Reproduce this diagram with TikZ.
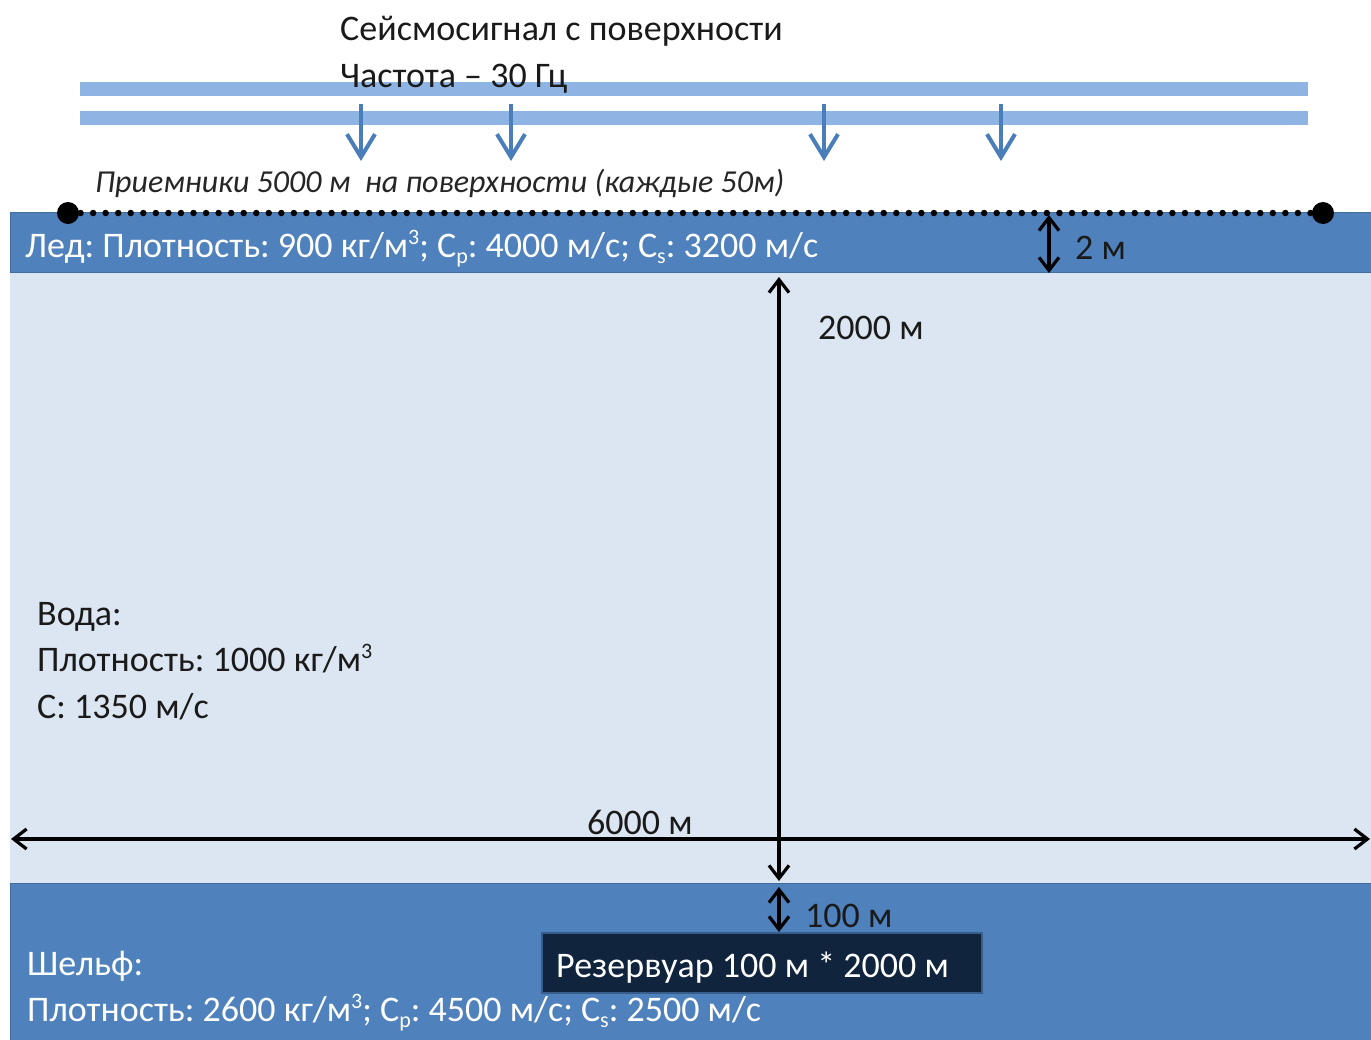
\documentclass[tikz,border=0pt]{standalone}
\usepackage{fontspec}
\setmainfont{Carlito}
\usetikzlibrary{arrows.meta}
\definecolor{layerblue}{HTML}{4F81BD}
\definecolor{layeredge}{HTML}{3F6E9E}
\definecolor{waterblue}{HTML}{DCE6F2}
\definecolor{barblue}{HTML}{8EB4E3}
\definecolor{sigblue}{HTML}{4A7EBB}
\definecolor{resfill}{HTML}{10243E}
\definecolor{resedge}{HTML}{385D8A}
\definecolor{txtdark}{HTML}{1A1A1A}
\newcommand\mcube{\raisebox{0.72ex}{\fontsize{22}{24}\selectfont 3}}
\newcommand\msub[1]{\raisebox{-0.35ex}{\fontsize{22}{24}\selectfont #1}}
\frenchspacing
\begin{document}
\begin{tikzpicture}[x=1pt,y=-1pt,
  bigtxt/.style={anchor=base west, inner sep=0pt, font=\fontsize{36}{42}\selectfont, text=txtdark},
  whitetxt/.style={bigtxt, text=white},
  itxt/.style={anchor=base west, inner sep=0pt, font=\fontsize{32}{38}\selectfont\itshape, text=black!85},
  dimarrow/.style={line width=3.2pt, draw=black, {Straight Barb[length=13pt,width=20pt]}-{Straight Barb[length=13pt,width=20pt]}},
  sigarrow/.style={draw=sigblue, line width=4pt, -{Straight Barb[length=23pt,width=28pt]}},
  bar/.style={fill=barblue, draw=none},
  layer/.style={fill=layerblue, draw=layeredge, line width=1pt}
]
\useasboundingbox (0,0) rectangle (1371,1039);
\fill[white] (0,0) rectangle (1371,1039);

% layers
\path[fill=waterblue, draw=none] (10,272) rectangle (1371,883);
\path[layer] (10,212) rectangle (1373,272);
\path[layer] (10,883) rectangle (1373,1041);

% signal bars
\path[bar] (80,82) rectangle (1308,96);
\path[bar] (80,111) rectangle (1308,125);

% title texts
\node[bigtxt] (title1) at (340,40) {Сейсмосигнал с поверхности};
\node[bigtxt] (title2) at (340,87) {Частота – 30 Гц};

% signal arrows
\foreach \x/\n in {361/a,511/b,824/c,1001/d}{
  \coordinate (s\n) at (\x,104);
  \coordinate (e\n) at (\x,161);
  \draw[sigarrow] (s\n) -- (e\n);
}

% receivers
\node[itxt] (recv) at (95,192) {Приемники 5000 м\ \ на поверхности (каждые 50м)};
\coordinate (rl) at (68,213);
\coordinate (rr) at (1323,213);
\draw[line width=6.5pt, line cap=round, dash pattern=on 0pt off 12.55pt, black] (rl) -- (rr);
\fill[black] (rl) circle (11);
\fill[black] (rr) circle (11);

% ice text
\node[whitetxt] (ice) at (25,257) {Лед: Плотность: 900 кг/м\mcube; C\msub{p}: 4000 м/с; C\msub{s}: 3200 м/с};

% 2 m arrow
\coordinate (ia) at (1049,215);
\coordinate (ib) at (1049,273);
\draw[dimarrow] (ia) -- (ib);
\node[bigtxt] (twom) at (1075,259) {2 м};

% 2000 m arrow
\coordinate (va) at (779,277);
\coordinate (vb) at (779,881);
\draw[dimarrow] (va) -- (vb);
\node[bigtxt] (d2000) at (818,339) {2000 м};

% 6000 m arrow
\coordinate (ha) at (11,839);
\coordinate (hb) at (1370,839);
\draw[dimarrow] (ha) -- (hb);
\node[bigtxt] (d6000) at (587,834) {6000 м};

% water text
\node[bigtxt] (w1) at (37,625) {Вода:};
\node[bigtxt] (w2) at (37,671) {Плотность: 1000 кг/м\mcube};
\node[bigtxt] (w3) at (37,718) {С: 1350 м/с};

% 100 m arrow
\coordinate (ra) at (779,887);
\coordinate (rb) at (779,932);
\draw[dimarrow] (ra) -- (rb);
\node[bigtxt] (d100) at (805,927) {100 м};

% reservoir
\path[fill=resfill, draw=resedge, line width=2pt] (542,933) rectangle (982,993);
\node[whitetxt] (res) at (556,977) {Резервуар 100 м * 2000 м};

% shelf text
\node[whitetxt] (sh1) at (27,975) {Шельф:};
\node[whitetxt] (sh2) at (27,1021) {Плотность: 2600 кг/м\mcube; C\msub{p}: 4500 м/с; C\msub{s}: 2500 м/с};
\end{tikzpicture}
\end{document}
